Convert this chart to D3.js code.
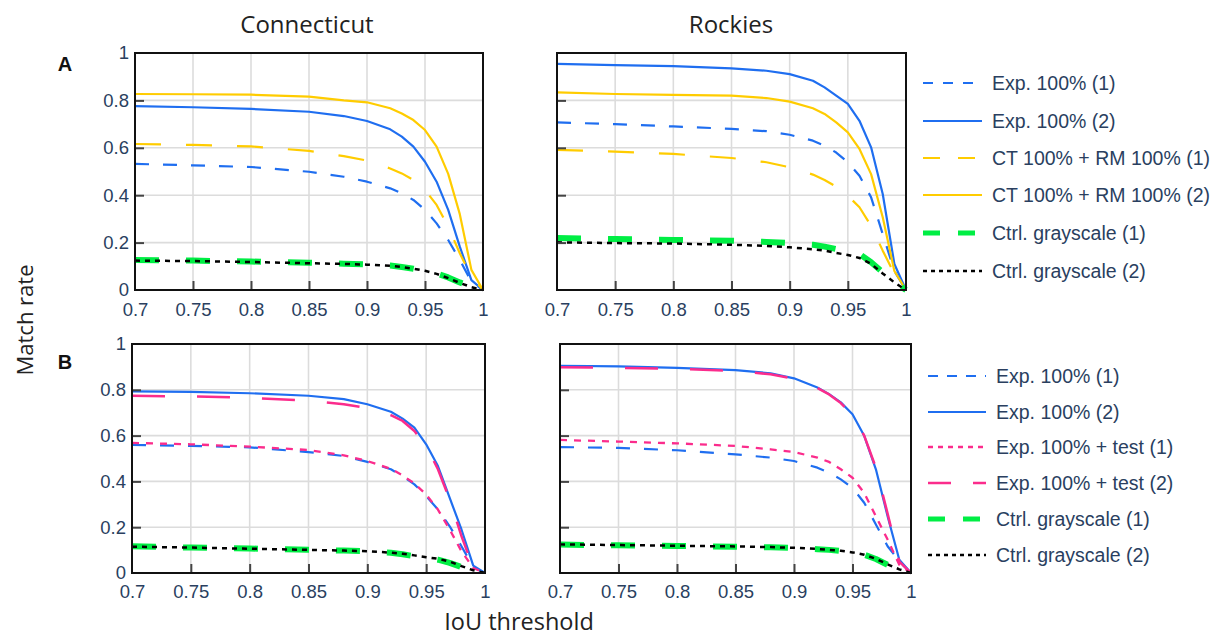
<!DOCTYPE html>
<html><head><meta charset="utf-8">
<script src="https://cdn.jsdelivr.net/npm/d3@7"></script>
<style>
html,body{margin:0;padding:0;background:#fff;}
svg{display:block;}
</style></head>
<body>
<svg id="chart" width="1215" height="637"></svg>
<script>
// ---------- data ----------
const xs = [0.70,0.75,0.80,0.85,0.88,0.90,0.92,0.93,0.94,0.95,0.96,0.97,0.98,0.99,1.00];
const xTickValues = [0.7,0.75,0.8,0.85,0.9,0.95,1];
const xTickLabels = ["0.7","0.75","0.8","0.85","0.9","0.95","1"];
const yTickValues = [0,0.2,0.4,0.6,0.8,1];
const yTickLabels = ["0","0.2","0.4","0.6","0.8","1"];
const columnTitles = ["Connecticut","Rockies"];

// Row A
const ctExp1  = [0.532,0.526,0.519,0.499,0.478,0.457,0.429,0.408,0.380,0.338,0.281,0.211,0.127,0.035,0];
const ctExp2  = [0.776,0.771,0.764,0.752,0.734,0.713,0.678,0.647,0.605,0.541,0.457,0.338,0.183,0.042,0];
const ctCtrm1 = [0.616,0.612,0.606,0.587,0.565,0.546,0.513,0.492,0.464,0.422,0.359,0.267,0.155,0.056,0];
const ctCtrm2 = [0.827,0.826,0.824,0.816,0.800,0.792,0.767,0.745,0.717,0.675,0.605,0.490,0.320,0.085,0];
const ctGray1 = [0.127,0.124,0.120,0.115,0.111,0.108,0.103,0.097,0.090,0.080,0.070,0.053,0.032,0.014,0];
const ctGray2 = [0.124,0.122,0.118,0.113,0.110,0.107,0.102,0.097,0.090,0.081,0.068,0.050,0.030,0.012,0];

const rkExp1  = [0.707,0.700,0.690,0.680,0.670,0.655,0.630,0.609,0.580,0.539,0.482,0.391,0.236,0.080,0];
const rkExp2  = [0.954,0.949,0.945,0.935,0.925,0.911,0.883,0.855,0.820,0.785,0.714,0.602,0.405,0.110,0];
const rkCtrm1 = [0.591,0.584,0.574,0.557,0.539,0.518,0.487,0.464,0.436,0.398,0.349,0.271,0.166,0.068,0];
const rkCtrm2 = [0.834,0.827,0.823,0.820,0.810,0.795,0.767,0.743,0.707,0.665,0.595,0.489,0.307,0.080,0];
const rkGray1 = [0.219,0.215,0.211,0.208,0.203,0.198,0.191,0.183,0.173,0.163,0.152,0.117,0.075,0.032,0];
const rkGray2 = [0.201,0.198,0.196,0.191,0.186,0.180,0.172,0.166,0.156,0.148,0.135,0.110,0.070,0.032,0];

// Row B
const ctBExp1  = [0.559,0.555,0.549,0.528,0.511,0.485,0.453,0.423,0.387,0.336,0.277,0.204,0.117,0.026,0];
const ctBExp2  = [0.793,0.791,0.785,0.774,0.759,0.737,0.704,0.674,0.635,0.562,0.467,0.328,0.190,0.032,0];
const ctBTest1 = [0.568,0.562,0.552,0.537,0.514,0.489,0.455,0.426,0.391,0.343,0.277,0.190,0.095,0.022,0];
const ctBTest2 = [0.774,0.771,0.765,0.752,0.737,0.720,0.689,0.664,0.620,0.555,0.453,0.321,0.161,0.022,0];
const ctBGray1 = [0.117,0.111,0.107,0.101,0.098,0.095,0.088,0.082,0.073,0.067,0.058,0.044,0.026,0.012,0];
const ctBGray2 = [0.115,0.111,0.106,0.101,0.098,0.095,0.089,0.084,0.077,0.069,0.062,0.050,0.030,0.012,0];

const rkBExp1  = [0.550,0.546,0.536,0.518,0.504,0.489,0.460,0.438,0.409,0.372,0.307,0.212,0.117,0.051,0];
const rkBExp2  = [0.905,0.902,0.896,0.886,0.872,0.850,0.810,0.781,0.745,0.693,0.599,0.453,0.248,0.058,0];
const rkBTest1 = [0.581,0.574,0.566,0.555,0.540,0.528,0.504,0.485,0.453,0.416,0.350,0.248,0.146,0.036,0];
const rkBTest2 = [0.898,0.896,0.892,0.882,0.868,0.848,0.808,0.780,0.742,0.690,0.600,0.460,0.260,0.050,0];
const rkBGray1 = [0.124,0.121,0.118,0.115,0.112,0.109,0.104,0.101,0.096,0.091,0.080,0.061,0.036,0.015,0];
const rkBGray2 = [0.125,0.122,0.119,0.116,0.113,0.110,0.105,0.101,0.097,0.090,0.080,0.062,0.038,0.016,0];

const legendA = ["Exp. 100% (1)","Exp. 100% (2)","CT 100% + RM 100% (1)","CT 100% + RM 100% (2)","Ctrl. grayscale (1)","Ctrl. grayscale (2)"];
const legendB = ["Exp. 100% (1)","Exp. 100% (2)","Exp. 100% + test (1)","Exp. 100% + test (2)","Ctrl. grayscale (1)","Ctrl. grayscale (2)"];

// ---------- styles ----------
const BLUE="#1f6ef0", YEL="#ffcc00", GRN="#00ee44", PINK="#fb2c8c", BLK="#000";
const stylesA = [
  {c:BLUE,w:2.2,d:"14,14",ld:"10,10"},
  {c:BLUE,w:2.2,d:null,ld:null},
  {c:YEL,w:2.2,d:"26,25",ld:"17,18"},
  {c:YEL,w:2.2,d:null,ld:null},
  {c:GRN,w:6,d:"24,27",ld:"17,18"},
  {c:BLK,w:2.5,d:"5,5",ld:"4,4"}
];
const stylesB = [
  {c:BLUE,w:2.2,d:"14,14",ld:"10,9"},
  {c:BLUE,w:2.2,d:null,ld:null},
  {c:PINK,w:2.3,d:"7,7",ld:"5,5"},
  {c:PINK,w:2.5,d:"33,32",ld:"23,22"},
  {c:GRN,w:6,d:"24,27",ld:"17,18"},
  {c:BLK,w:2.5,d:"5,5",ld:"4,4"}
];

const panels = [
  {x0:135,x1:483,y0:53,y1:290,series:[ctExp1,ctExp2,ctCtrm1,ctCtrm2,ctGray1,ctGray2],st:stylesA,yl:true,pad:13},
  {x0:557,x1:906,y0:53,y1:290,series:[rkExp1,rkExp2,rkCtrm1,rkCtrm2,rkGray1,rkGray2],st:stylesA,yl:false,pad:13},
  {x0:132,x1:485,y0:344,y1:573,series:[ctBExp1,ctBExp2,ctBTest1,ctBTest2,ctBGray1,ctBGray2],st:stylesB,yl:true,pad:12},
  {x0:560,x1:911,y0:344,y1:573,series:[rkBExp1,rkBExp2,rkBTest1,rkBTest2,rkBGray1,rkBGray2],st:stylesB,yl:false,pad:12}
];

const svg = d3.select("#chart");
const TXT = "#2a3f5f";
const tickFont = "'Liberation Sans', Arial, sans-serif";
const titleFont = "'Open Sans', 'Noto Sans', sans-serif";

panels.forEach(p => {
  const x = d3.scaleLinear().domain([0.7,1]).range([p.x0,p.x1]);
  const y = d3.scaleLinear().domain([0,1]).range([p.y1,p.y0]);
  const g = svg.append("g");
  // grid
  g.selectAll(".vg").data(xTickValues.slice(1,-1)).join("line")
    .attr("x1",d=>x(d)).attr("x2",d=>x(d)).attr("y1",p.y0).attr("y2",p.y1)
    .attr("stroke","#dcdcdc").attr("stroke-width",1.6);
  g.selectAll(".hg").data(yTickValues.slice(1,-1)).join("line")
    .attr("y1",d=>y(d)).attr("y2",d=>y(d)).attr("x1",p.x0).attr("x2",p.x1)
    .attr("stroke","#dcdcdc").attr("stroke-width",1.6);
  // series
  const line = d3.line().x((d,i)=>x(xs[i])).y(d=>y(d));
  p.series.forEach((s,i)=>{
    const st = p.st[i];
    g.append("path").datum(s).attr("d",line)
      .attr("fill","none").attr("stroke",st.c).attr("stroke-width",st.w)
      .attr("stroke-dasharray",st.d).attr("stroke-linejoin","round");
  });
  // axes
  const xa = g.append("g").attr("transform",`translate(0,${p.y1})`)
    .call(d3.axisBottom(x).tickValues(xTickValues).tickSize(-9).tickPadding(p.pad)
      .tickFormat((d,i)=>xTickLabels[i]));
  const ya = g.append("g").attr("transform",`translate(${p.x0},0)`)
    .call(d3.axisLeft(y).tickValues(yTickValues).tickSize(-9).tickPadding(6)
      .tickFormat((d,i)=>p.yl?yTickLabels[i]:""));
  [xa,ya].forEach(a=>{
    a.select(".domain").remove();
    a.selectAll(".tick line").attr("stroke","#444").attr("stroke-width",2);
    a.selectAll(".tick text").attr("fill",TXT).style("font-family",tickFont).style("font-size","18.5px");
  });
  xa.selectAll(".tick").filter(d=>d===0.7||d===1).select("line").remove();
  ya.selectAll(".tick").filter(d=>d===0||d===1).select("line").remove();
  // frame
  g.append("rect").attr("x",p.x0).attr("y",p.y0).attr("width",p.x1-p.x0).attr("height",p.y1-p.y0)
    .attr("fill","none").attr("stroke","#111").attr("stroke-width",2);
});

// legends
function legend(labels, styles, lx0, lx1, tx, ys){
  const g = svg.append("g");
  labels.forEach((lab,i)=>{
    const st = styles[i];
    g.append("line").attr("x1",lx0).attr("x2",lx1).attr("y1",ys[i]).attr("y2",ys[i])
      .attr("stroke",st.c).attr("stroke-width",st.w===6?5:st.w).attr("stroke-dasharray",st.ld);
    g.append("text").attr("x",tx).attr("y",ys[i]).attr("dy","0.35em")
      .attr("fill",TXT).style("font-family",tickFont).style("font-size","19.5px").text(lab);
  });
}
legend(legendA, stylesA, 923, 982, 992, [83,121,158,195,233,271]);
legend(legendB, stylesB, 928, 986, 996, [376,412,447,483,519,555]);

// titles
svg.append("text").attr("x",307).attr("y",33).attr("text-anchor","middle")
  .attr("fill","#222").style("font-family",titleFont).style("font-size","24px").text(columnTitles[0]);
svg.append("text").attr("x",731).attr("y",33).attr("text-anchor","middle")
  .attr("fill","#222").style("font-family",titleFont).style("font-size","24px").text(columnTitles[1]);
svg.append("text").attr("x",65).attr("y",71).attr("text-anchor","middle")
  .attr("fill","#111").style("font-family",tickFont).style("font-weight","bold").style("font-size","20px").text("A");
svg.append("text").attr("x",65).attr("y",369).attr("text-anchor","middle")
  .attr("fill","#111").style("font-family",tickFont).style("font-weight","bold").style("font-size","20px").text("B");
svg.append("text").attr("transform","translate(33,320) rotate(-90)").attr("text-anchor","middle")
  .attr("fill","#222").style("font-family",titleFont).style("font-size","22px").text("Match rate");
svg.append("text").attr("x",519).attr("y",630).attr("text-anchor","middle")
  .attr("fill","#222").style("font-family",titleFont).style("font-size","23.5px").text("IoU threshold");
</script>
</body></html>
